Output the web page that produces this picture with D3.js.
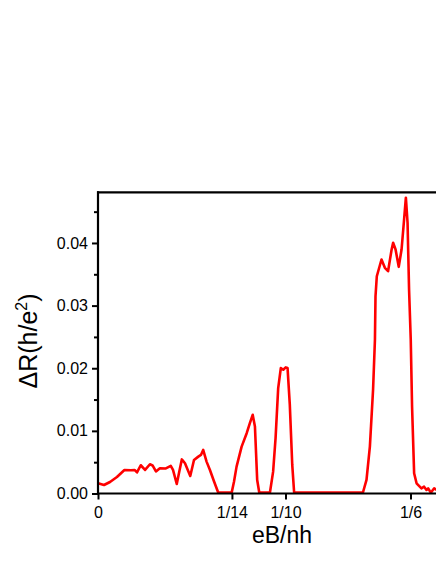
<!DOCTYPE html>
<html>
<head>
<meta charset="utf-8">
<script src="https://cdn.jsdelivr.net/npm/d3@7"></script>
<style>
  html, body { margin: 0; padding: 0; background: #fff; }
  svg { display: block; }
  text { font-family: Arial, "Liberation Sans", sans-serif; fill: #000; }
</style>
</head>
<body>
<svg id="chart" width="436" height="564"></svg>
<script>
// ---- data ----
const fieldB = [0, 0.0032, 0.0064, 0.0101, 0.0141, 0.0176, 0.0195, 0.0208, 0.0228, 0.0251,
  0.0277, 0.0291, 0.0309, 0.0330, 0.0362, 0.0388, 0.0400, 0.0420, 0.0432, 0.0447,
  0.0464, 0.0492, 0.0512, 0.0535, 0.0549, 0.0561, 0.0579, 0.0597, 0.0618, 0.0641,
  0.0677, 0.0713, 0.0725, 0.0739, 0.0766, 0.0793, 0.0810, 0.0825, 0.0837, 0.0849,
  0.0860, 0.0917, 0.0934, 0.0947, 0.0961, 0.0975, 0.0988, 0.1001, 0.1011, 0.1023,
  0.1036, 0.1046, 0.1413, 0.1432, 0.1450, 0.1467, 0.1477, 0.1480, 0.1487, 0.1512,
  0.1530, 0.1547, 0.1566, 0.1574, 0.1587, 0.1604, 0.1619, 0.1631, 0.1642, 0.1651,
  0.1659, 0.1668, 0.1675, 0.1686, 0.1699, 0.1725, 0.1739, 0.1752, 0.1761, 0.1775,
  0.1793, 0.1807];
const deltaR = [0.00163, 0.00136, 0.00184, 0.00264, 0.00376, 0.00371, 0.00376, 0.00336, 0.00451, 0.00376,
  0.00467, 0.00448, 0.00352, 0.00403, 0.00400, 0.00440, 0.00376, 0.00152, 0.00328, 0.00544,
  0.00483, 0.00280, 0.00536, 0.00589, 0.00616, 0.00696, 0.00509, 0.00376, 0.00200, 0.00016,
  0.00016, 0.00016, 0.00184, 0.00429, 0.00749, 0.00963, 0.01123, 0.01256, 0.01069, 0.00216,
  0.00016, 0.00016, 0.00349, 0.00883, 0.01683, 0.02003, 0.01976, 0.02013, 0.02003, 0.01416,
  0.00456, 0.00016, 0.00016, 0.00216, 0.00749, 0.01656, 0.02456, 0.03149, 0.03469, 0.03736,
  0.03603, 0.03549, 0.03896, 0.04003, 0.03896, 0.03619, 0.03896, 0.04323, 0.04723, 0.04323,
  0.03256, 0.02456, 0.01389, 0.00323, 0.00163, 0.00083, 0.00109, 0.00056, 0.00083, 0.00013,
  0.00083, 0.00056];

const xTickValues = [0, 1/14, 1/10, 1/6];
const xTickLabels = ["0", "1/14", "1/10", "1/6"];
const yTickValues = [0, 0.01, 0.02, 0.03, 0.04];
const yMinorValues = [0.005, 0.015, 0.025, 0.035, 0.045];

// ---- layout ----
const pLeft = 98, pRight = 473, pTop = 192.3, pBottom = 493.5;
const svg = d3.select("#chart");

const x = d3.scaleLinear().domain([0, 0.2]).range([pLeft, pRight]);
const y = d3.scaleLinear().domain([0, 0.04809]).range([pBottom, pTop]);

// curve
const pts = fieldB.map((b, i) => [b, deltaR[i]]);
const line = d3.line().x(d => x(d[0])).y(d => y(d[1])).curve(d3.curveLinear);
svg.append("path")
  .attr("d", line(pts))
  .attr("fill", "none")
  .attr("stroke", "#ff0000")
  .attr("stroke-width", 2.6)
  .attr("stroke-linejoin", "round");

// top frame line
svg.append("line")
  .attr("x1", pLeft - 1).attr("x2", 440)
  .attr("y1", pTop).attr("y2", pTop)
  .attr("stroke", "#000").attr("stroke-width", 2.2);

// y axis (major)
const yAxis = d3.axisLeft(y)
  .tickValues(yTickValues)
  .tickFormat(d3.format(".2f"))
  .tickSize(6)
  .tickSizeOuter(0)
  .tickPadding(4);
const gy = svg.append("g").attr("transform", `translate(${pLeft},0)`).call(yAxis);
gy.select(".domain").attr("stroke-width", 2.2).attr("d", `M0,${pBottom + 1}V${pTop - 1}`);
gy.selectAll(".tick line").attr("stroke-width", 2);
gy.selectAll(".tick text").style("font-size", "16px").style("font-family", "Arial, 'Liberation Sans', sans-serif");

// y minor ticks
const yMinor = d3.axisLeft(y).tickValues(yMinorValues).tickSize(4).tickFormat("");
const gym = svg.append("g").attr("transform", `translate(${pLeft},0)`).call(yMinor);
gym.select(".domain").remove();
gym.selectAll(".tick line").attr("stroke-width", 2);

// x axis
const xAxis = d3.axisBottom(x)
  .tickValues(xTickValues)
  .tickFormat((d, i) => xTickLabels[i])
  .tickSize(6)
  .tickSizeOuter(0)
  .tickPadding(7);
const gx = svg.append("g").attr("transform", `translate(0,${pBottom})`).call(xAxis);
gx.select(".domain").attr("stroke-width", 2.2).attr("d", `M${pLeft - 1},0H${pRight}`);
gx.selectAll(".tick line").attr("stroke-width", 2);
gx.selectAll(".tick text").style("font-size", "16px").style("font-family", "Arial, 'Liberation Sans', sans-serif");

// axis titles
svg.append("text")
  .attr("x", 282).attr("y", 543)
  .attr("text-anchor", "middle")
  .style("font-size", "23px")
  .text("eB/nh");

const yt = svg.append("text")
  .attr("transform", "translate(37,341) rotate(-90)")
  .attr("text-anchor", "middle")
  .style("font-size", "25px");
yt.append("tspan").text("\u0394R(h/e");
yt.append("tspan").attr("dy", -10).style("font-size", "16px").text("2");
yt.append("tspan").attr("dy", 10).text(")");
</script>
</body>
</html>
